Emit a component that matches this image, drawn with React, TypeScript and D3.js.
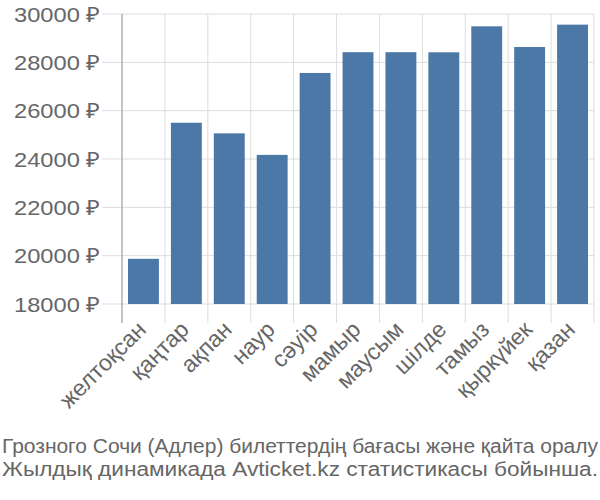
import React from "react";
import * as d3 from "d3";

const months = ["желтоқсан", "қаңтар", "ақпан", "наур", "сәуір", "мамыр", "маусым", "шілде", "тамыз", "қыркүйек", "қазан"];
const prices = [19870, 25500, 25060, 24170, 27560, 28420, 28420, 28415, 29490, 28635, 29560];
const yTicks = [18000, 20000, 22000, 24000, 26000, 28000, 30000];
const titleLines = [
  "Грозного Сочи (Адлер) билеттердің бағасы және қайта оралу",
  "Жылдық динамикада Avticket.kz статистикасы бойынша.",
];

export default function App() {
  const left = 122, right = 594, top = 14, bottom = 304;
  const x = d3.scaleBand<string>().domain(months).range([left, right]).paddingInner(0.28).paddingOuter(0.14);
  const xb = d3.scaleBand<string>().domain(months).range([left, right]);
  const y = d3.scaleLinear().domain([18000, 30000]).range([bottom, top]);
  const font = "'Liberation Sans', Arial, sans-serif";
  const textColor = "#666";
  const grid = "#dddddd";
  const bounds = [...months.map((m) => xb(m)!), right];
  return (
    <svg width={600} height={500} style={{ position: "absolute", left: 0, top: 0 }} fontFamily={font}>
      {yTicks.map((t) => (
        <line key={"g" + t} x1={102} x2={right} y1={y(t)} y2={y(t)} stroke={grid} strokeWidth={1} />
      ))}
      {bounds.map((b, i) => (
        <line key={"v" + i} x1={b} x2={b} y1={top} y2={323} stroke={grid} strokeWidth={1} />
      ))}
      <line x1={left} x2={left} y1={top} y2={323} stroke="#999" strokeWidth={1} />
      {months.map((m, i) => (
        <rect key={m} x={x(m)} width={x.bandwidth()} y={y(prices[i])} height={bottom - y(prices[i])} fill="#4c78a8" />
      ))}
      {yTicks.map((t) => (
        <text key={"t" + t} x={100} y={y(t)} dy="0.36em" textAnchor="end" fontSize={21} fill={textColor}
          textLength={86} lengthAdjust="spacingAndGlyphs">
          {t + " ₽"}
        </text>
      ))}
      {months.map((m) => {
        const cx = xb(m)! + xb.bandwidth() / 2 + 4;
        return (
          <text key={"l" + m} transform={`translate(${cx},331) rotate(-45)`} textAnchor="end" fontSize={23} fill={textColor}>
            {m}
          </text>
        );
      })}
      {titleLines.map((l, i) => (
        <text key={"h" + i} x={2} y={453 + i * 23} fontSize={20} fill={textColor}
          textLength={596} lengthAdjust="spacingAndGlyphs">
          {l}
        </text>
      ))}
    </svg>
  );
}
